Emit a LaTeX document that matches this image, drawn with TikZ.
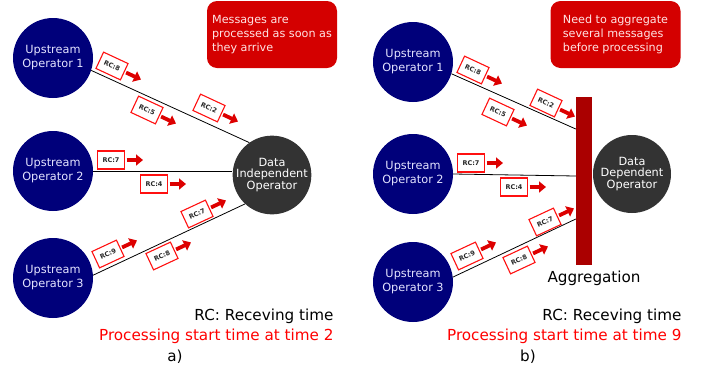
\documentclass[tikz,border=0pt]{standalone}
\usepackage{fontspec}
\setmainfont{DejaVu Sans}
\usetikzlibrary{arrows.meta}

\definecolor{upnavy}{HTML}{00007A}
\definecolor{opgray}{HTML}{333333}
\definecolor{notered}{HTML}{D40000}
\definecolor{aggred}{HTML}{AA0000}
\definecolor{arrowred}{HTML}{DD0000}
\definecolor{msgred}{HTML}{FF1010}
\definecolor{notetext}{HTML}{FFE4E4}
\definecolor{uptext}{HTML}{E4E4FF}

\tikzset{
  upstream/.style={circle, fill=upnavy, minimum size=80pt, inner sep=0pt,
    text=uptext, align=center, font=\fontsize{11.3}{14}\selectfont},
  operator/.style={circle, fill=opgray, minimum size=78pt, inner sep=0pt,
    text=white, align=center, font=\fontsize{11.3}{10.5}\selectfont},
  note/.style={fill=notered, rounded corners=10pt, minimum width=130pt,
    minimum height=67pt, align=left, text=notetext,
    font=\fontsize{11.2}{14}\selectfont},
  msg/.style={draw=msgred, fill=white, line width=1.1pt, minimum width=27pt,
    minimum height=18pt, inner sep=0pt, text=black!85,
    font=\bfseries\fontsize{6.5}{7}\selectfont, transform shape},
  msgarrow/.style={draw=arrowred, line width=3.8pt,
    -{Triangle[length=7pt,width=11pt]}, shorten <=1.5pt},
  link/.style={draw=black, line width=0.8pt},
  caption/.style={font=\fontsize{15.2}{17}\selectfont},
  aggbar/.style={fill=aggred, minimum width=16pt, minimum height=168pt, inner sep=0pt},
}

% a message box with its travel arrow: name, x, y, angle, receiving time
\newcommand\msgat[5]{%
  \begin{scope}[shift={(#2,#3)},rotate=#4]
    \node[msg] (#1) at (0,0) {RC:#5};
    \coordinate (#1tip) at (32,0);
    \draw[msgarrow] (#1) -- (#1tip);
  \end{scope}}

\begin{document}
\begin{tikzpicture}[x=1pt,y=1pt]
\useasboundingbox (0,0) rectangle (713,-373);

% ---------------- a) data independent operator ----------------
\node[upstream] (u1a) at (53,-58)  {Upstream\\Operator 1};
\node[upstream] (u2a) at (53,-171) {Upstream\\Operator 2};
\node[upstream] (u3a) at (53,-278) {Upstream\\Operator 3};
\node[operator] (dia) at (272,-175) {Data\\Independent\\Operator};
\node[note] (notea) at (272,-34.5) {Messages are\\processed as soon as\\they arrive};

\draw[link] (u1a.-18) -- (dia.125);
\draw[link] (u2a.east) -- (u2a.east -| dia.west);
\draw[link] (u3a.4) -- (dia.227);

\msgat{a11}{112}{-66}{-25}{8}
\msgat{a12}{147}{-110}{-25}{5}
\msgat{a13}{209}{-108}{-25}{2}
\msgat{a21}{111}{-160}{0}{7}
\msgat{a22}{154}{-184}{0}{4}
\msgat{a31}{108}{-254}{25}{9}
\msgat{a32}{162}{-256}{25}{8}
\msgat{a33}{197}{-214}{25}{7}

\node[caption, anchor=east] (rca) at (337,-316) {RC: Receving time};
\node[caption, anchor=east, text=red] (psa) at (337,-336) {Processing start time at time 2};
\node[caption] (capa) at (175,-357) {a)};

% ---------------- b) data dependent operator ----------------
\node[upstream] (u1b) at (413,-62)  {Upstream\\Operator 1};
\node[upstream] (u2b) at (413,-174) {Upstream\\Operator 2};
\node[upstream] (u3b) at (413,-282) {Upstream\\Operator 3};
\node[operator] (ddo) at (632,-174) {Data\\Dependent\\Operator};
\node[note] (noteb) at (615.5,-34.5) {Need to aggregate\\several messages\\before processing};
\node[aggbar] (agg) at (584,-181) {};

\draw[link] (u1b.-17) -- ([yshift=52pt]agg.west);
\draw[link] (u2b.east) -- ([yshift=5pt]agg.west);
\draw[link] (u3b.7) -- ([yshift=-38pt]agg.west);

\msgat{b11}{473}{-70}{-25}{8}
\msgat{b12}{498}{-112}{-25}{5}
\msgat{b13}{546}{-103}{-25}{2}
\msgat{b21}{471}{-163}{0}{7}
\msgat{b22}{514}{-187}{0}{4}
\msgat{b31}{467}{-256}{25}{9}
\msgat{b32}{519}{-260}{25}{8}
\msgat{b33}{545}{-222}{25}{7}

\node[caption, anchor=west] (agglabel) at (544,-278) {Aggregation};
\node[caption, anchor=east] (rcb) at (685,-316) {RC: Receving time};
\node[caption, anchor=east, text=red] (psb) at (685,-336) {Processing start time at time 9};
\node[caption] (capb) at (528,-357) {b)};
\end{tikzpicture}
\end{document}
